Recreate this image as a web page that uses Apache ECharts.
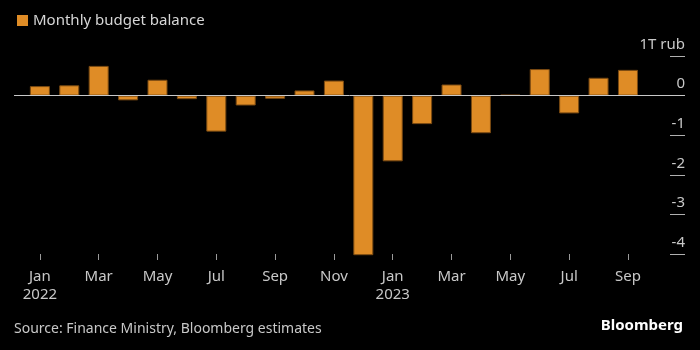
<!DOCTYPE html>
<html>
<head>
<meta charset="utf-8">
<script src="https://cdn.jsdelivr.net/npm/echarts@6/dist/echarts.min.js"></script>
<style>
  html, body { margin: 0; padding: 0; background: #000; }
  #chart { width: 700px; height: 350px; }
</style>
</head>
<body>
<div id="chart"></div>
<script>
// monthly budget balance, trillion rubles, Jan 2022 - Sep 2023
const months = ['Jan', 'Feb', 'Mar', 'Apr', 'May', 'Jun', 'Jul', 'Aug', 'Sep', 'Oct', 'Nov', 'Dec',
    'Jan', 'Feb', 'Mar', 'Apr', 'May', 'Jun', 'Jul', 'Aug', 'Sep'];
const years = { 0: '2022', 12: '2023' };
const balance = [0.24, 0.26, 0.75, -0.12, 0.40, -0.09, -0.91, -0.25, -0.08, 0.13, 0.38, -4.03,
    -1.66, -0.72, 0.28, -0.95, 0.02, 0.67, -0.45, 0.45, 0.65];
const labelMonths = [0, 2, 4, 6, 8, 10, 12, 14, 16, 18, 20];

const font = 'Noto Sans';
const chart = echarts.init(document.getElementById('chart'));

const option = {
    backgroundColor: '#000',
    animation: false,
    textStyle: { fontFamily: font },
    legend: {
        left: 12,
        top: 8,
        icon: 'rect',
        itemWidth: 11,
        itemHeight: 11,
        itemGap: 6,
        itemStyle: { borderWidth: 0 },
        textStyle: { color: '#d6d6d6', fontSize: 15, fontFamily: font },
        data: ['Monthly budget balance']
    },
    grid: { left: 14, right: 15, top: 56, bottom: 96 },
    xAxis: {
        type: 'value',
        min: -0.88,
        max: 21.94,
        splitLine: { show: false },
        axisLine: { show: false, onZero: false },
        axisTick: {
            show: true,
            length: 6,
            customValues: labelMonths,
            lineStyle: { color: '#9a9a9a' }
        },
        axisLabel: {
            customValues: labelMonths,
            color: '#c8c8c8',
            fontSize: 15,
            lineHeight: 18,
            margin: 14,
            formatter: v => {
                const m = months[v];
                return years[v] ? m + '\n' + years[v] : m;
            }
        }
    },
    yAxis: {
        type: 'value',
        position: 'right',
        min: -4,
        max: 1,
        interval: 1,
        splitLine: { show: false },
        axisLine: { show: false, onZero: false },
        axisTick: {
            show: true,
            inside: true,
            length: 15,
            lineStyle: { color: '#b0b0b0' }
        },
        axisLabel: {
            inside: true,
            margin: 0,
            color: '#c8c8c8',
            fontSize: 15,
            verticalAlign: 'bottom',
            padding: [0, 0, 4, 0],
            formatter: v => v === 1 ? '1T rub' : String(v)
        }
    },
    series: [{
        name: 'Monthly budget balance',
        type: 'bar',
        barWidth: 20,
        clip: false,
        itemStyle: { color: '#df8c26', borderColor: '#7a4a12', borderWidth: 1 },
        data: balance.map((v, i) => [i, v]),
        markLine: {
            silent: true,
            symbol: 'none',
            label: { show: false },
            lineStyle: { color: '#c8c8c8', type: 'solid', width: 1 },
            data: [{ yAxis: 0 }]
        }
    }],
    graphic: [
        {
            type: 'text',
            left: 14,
            top: 322,
            style: { text: 'Source: Finance Ministry, Bloomberg estimates', fill: '#c8c8c8', font: '14px "Noto Sans"' }
        },
        {
            type: 'text',
            right: 17,
            top: 318,
            style: { text: 'Bloomberg', fill: '#ffffff', font: 'bold 15px "Noto Sans"' }
        }
    ]
};
chart.setOption(option);
</script>
</body>
</html>
